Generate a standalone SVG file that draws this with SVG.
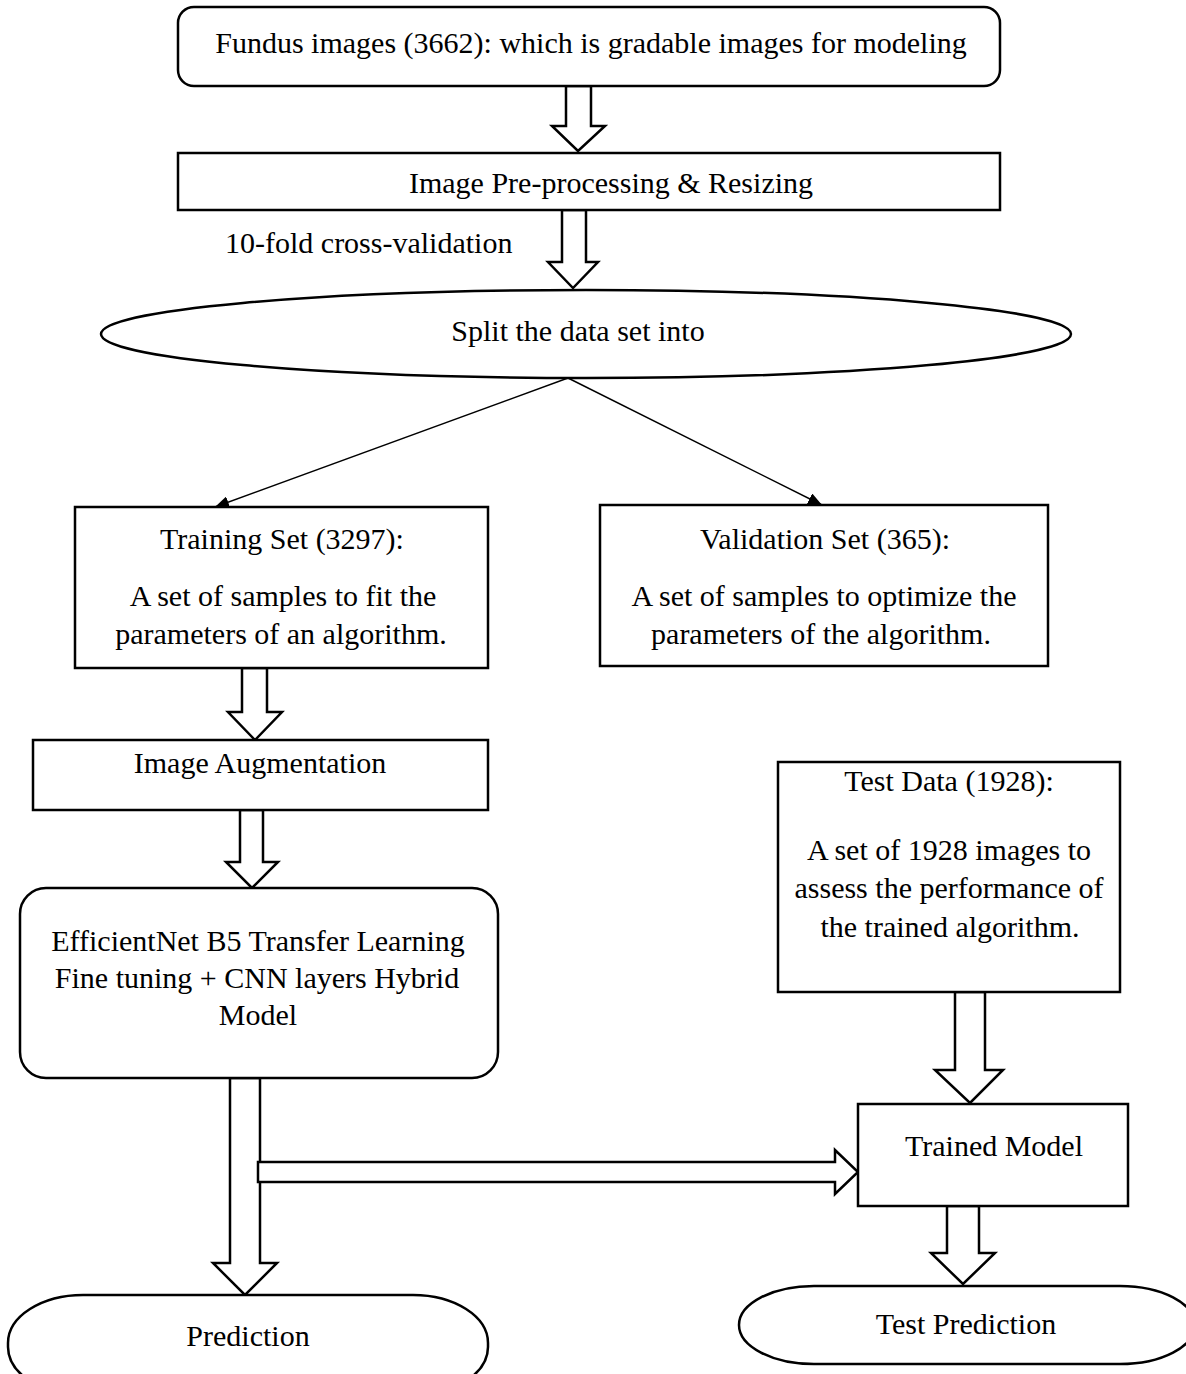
<svg xmlns="http://www.w3.org/2000/svg" width="1186" height="1374" viewBox="0 0 1186 1374">
  <style>
    .box { fill: #fff; stroke: #000; stroke-width: 2.5; }
    .blk { fill: #fff; stroke: #000; stroke-width: 2.5; stroke-linejoin: miter; }
    .thin { fill: none; stroke: #000; stroke-width: 1.4; }
    text { font-family: "Liberation Serif", "Times New Roman", serif; font-size: 30px; fill: #000; text-anchor: middle; }
    .left { text-anchor: start; }
  </style>
  <defs>
    <marker id="tri" viewBox="0 0 14 12" refX="14" refY="6" markerWidth="14" markerHeight="12" markerUnits="userSpaceOnUse" orient="auto">
      <path d="M0,0 L14,6 L0,12 Z" fill="#000"/>
    </marker>
  </defs>

  <rect width="1186" height="1374" fill="#fff"/>

  <!-- flow connectors: hollow block arrows and thin split lines -->
  <g id="connectors">
    <path class="blk" d="M566,86 V126 H552 L578,151 L605,126 H591 V86 Z"/>
    <path class="blk" d="M562,210 V262 H548 L573,288 L598,262 H586 V210 Z"/>
    <line class="thin" x1="568" y1="378" x2="215" y2="507" marker-end="url(#tri)"/>
    <line class="thin" x1="568" y1="378" x2="822" y2="505" marker-end="url(#tri)"/>
    <path class="blk" d="M242,668 V712 H228 L255,740 L282,712 H267 V668 Z"/>
    <path class="blk" d="M240,810 V862 H226 L252,888 L278,862 H263 V810 Z"/>
    <path class="blk" d="M230,1078 V1263 H213 L245,1295 L277,1263 H260 V1078 Z"/>
    <path class="blk" d="M258,1162 H835 V1150 L858,1172 L835,1194 V1182 H258 Z"/>
    <path class="blk" d="M955,992 V1070 H935 L970,1103 L1003,1070 H985 V992 Z"/>
    <path class="blk" d="M947,1206 V1253 H931 L963,1284 L995,1253 H979 V1206 Z"/>
  </g>

  <g id="fundus">
    <rect class="box" x="178" y="7" width="822" height="79" rx="16"/>
    <text x="591" y="53">Fundus images (3662): which is gradable images for modeling</text>
  </g>

  <g id="preprocess">
    <rect class="box" x="178" y="153" width="822" height="57"/>
    <text x="611" y="193">Image Pre-processing &amp; Resizing</text>
  </g>

  <g id="cv-label">
    <text class="left" x="225" y="253">10-fold cross-validation</text>
  </g>

  <g id="split">
    <ellipse class="box" cx="586" cy="334" rx="485" ry="44"/>
    <text x="578" y="341">Split the data set into</text>
  </g>

  <g id="training">
    <rect class="box" x="75" y="507" width="413" height="161"/>
    <text x="282" y="549">Training Set (3297):</text>
    <text x="283" y="606">A set of samples to fit the</text>
    <text x="281" y="644">parameters of an algorithm.</text>
  </g>

  <g id="validation">
    <rect class="box" x="600" y="505" width="448" height="161"/>
    <text x="825" y="549">Validation Set (365):</text>
    <text x="824" y="606">A set of samples to optimize the</text>
    <text x="821" y="644">parameters of the algorithm.</text>
  </g>

  <g id="augmentation">
    <rect class="box" x="33" y="740" width="455" height="70"/>
    <text x="260" y="773">Image Augmentation</text>
  </g>

  <g id="efficientnet">
    <rect class="box" x="20" y="888" width="478" height="190" rx="26"/>
    <text x="258" y="951">EfficientNet B5 Transfer Learning</text>
    <text x="257" y="988">Fine tuning + CNN layers Hybrid</text>
    <text x="258" y="1025">Model</text>
  </g>

  <g id="testdata">
    <rect class="box" x="778" y="762" width="342" height="230"/>
    <text x="949" y="791">Test Data (1928):</text>
    <text x="949" y="860">A set of 1928 images to</text>
    <text x="949" y="898">assess the performance of</text>
    <text x="950" y="937">the trained algorithm.</text>
  </g>

  <g id="trained">
    <rect class="box" x="858" y="1104" width="270" height="102"/>
    <text x="994" y="1156">Trained Model</text>
  </g>

  <g id="prediction">
    <rect class="box" x="8" y="1295" width="480" height="100" rx="75" ry="48"/>
    <text x="248" y="1346">Prediction</text>
  </g>

  <g id="testprediction">
    <rect class="box" x="739" y="1286" width="456" height="78" rx="75" ry="39"/>
    <text x="966" y="1334">Test Prediction</text>
  </g>
</svg>
